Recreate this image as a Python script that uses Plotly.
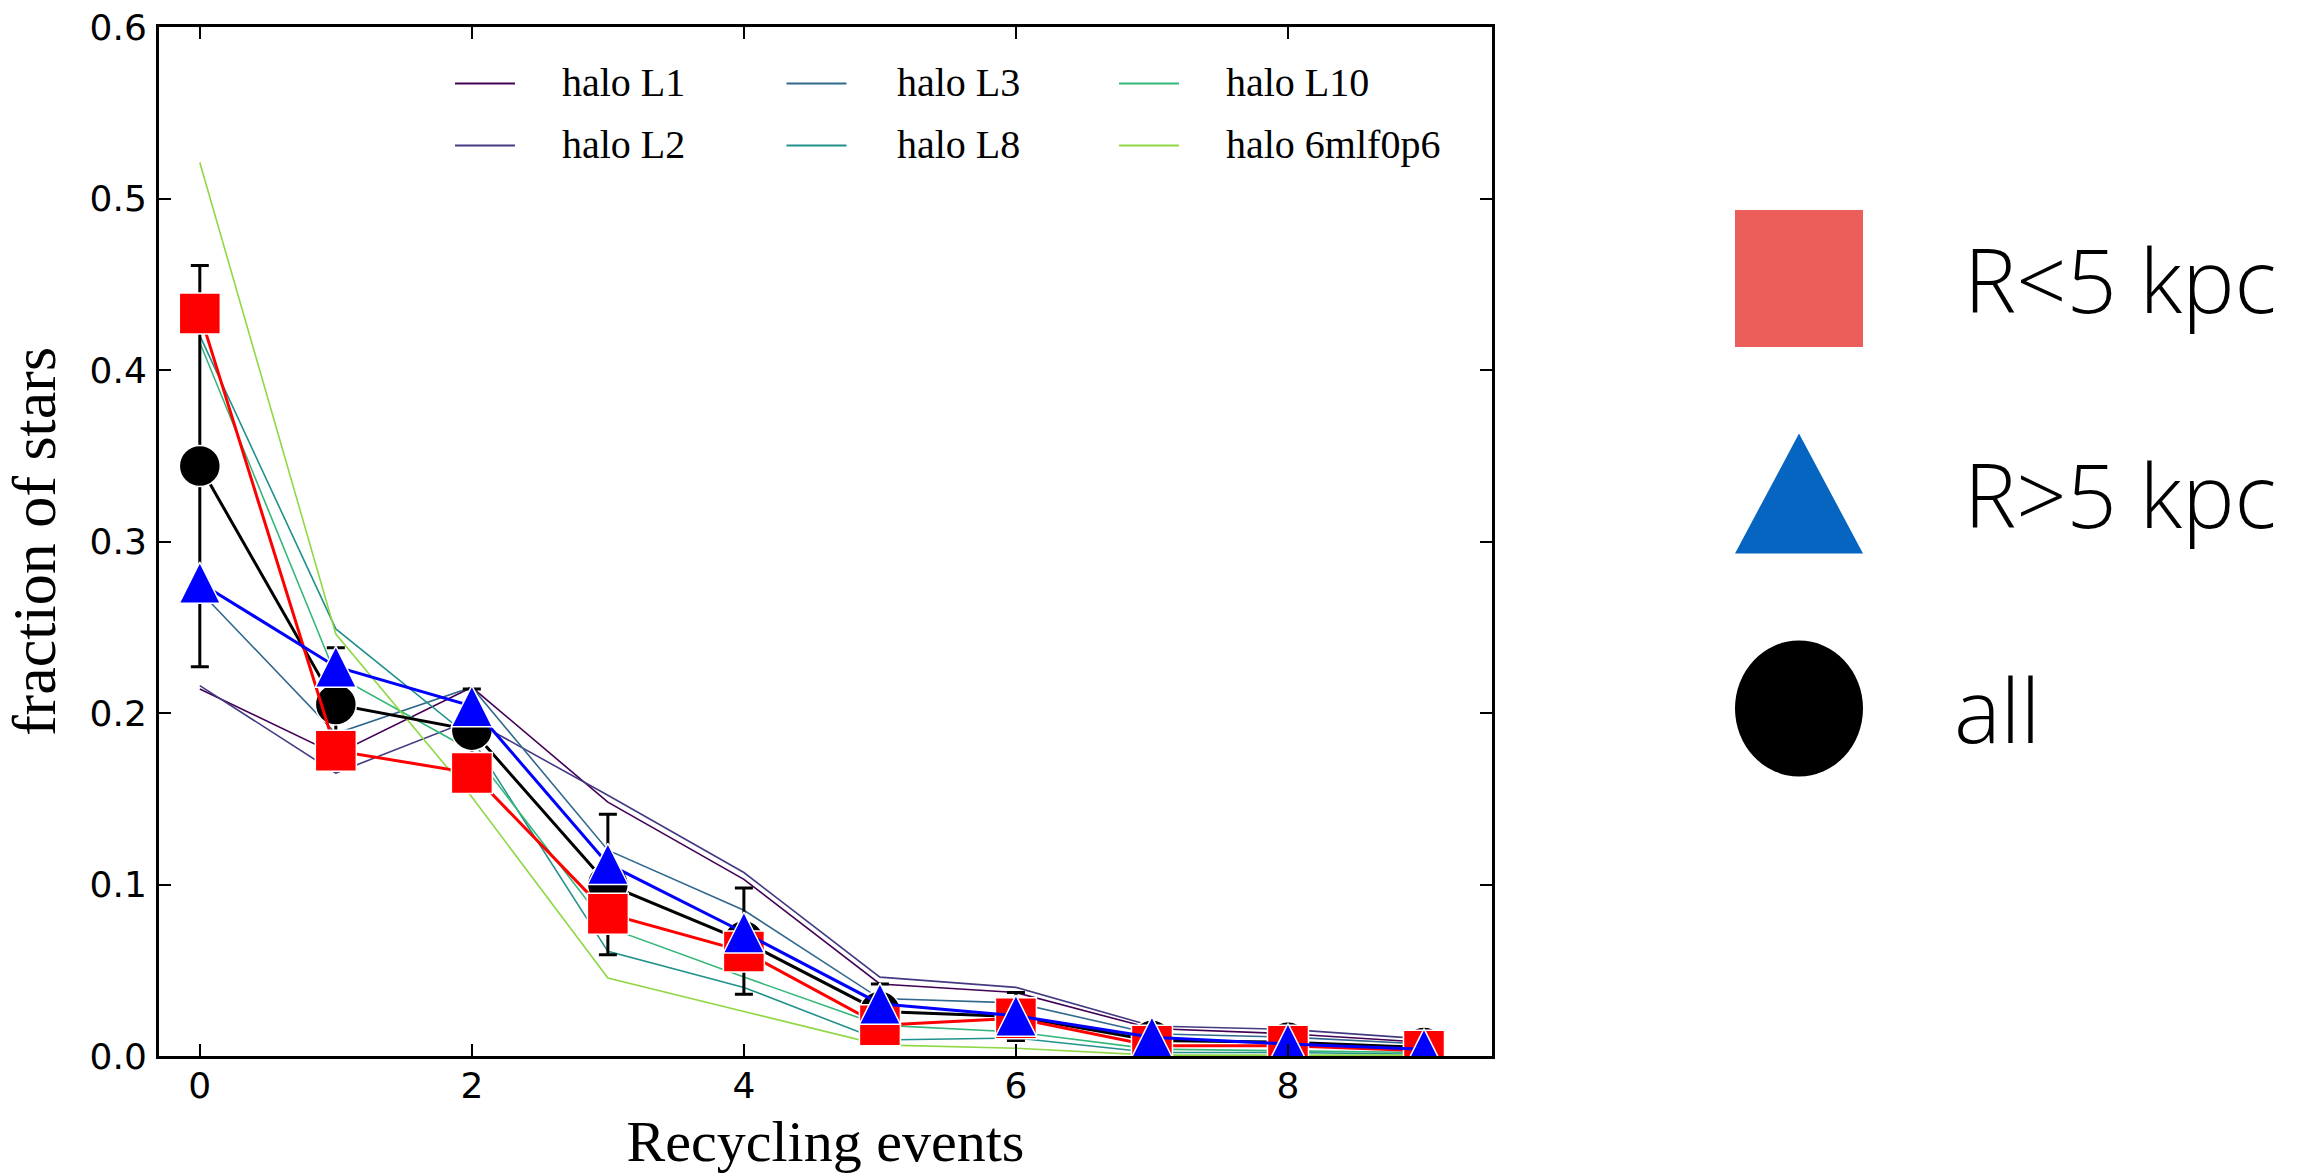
import plotly.graph_objects as go

# ---------------- data ----------------
events = list(range(10))

halo_names = ["halo L1", "halo L2", "halo L3", "halo L8", "halo L10", "halo 6mlf0p6"]
halo_colors = ["#440154", "#443a83", "#31688e", "#21918c", "#35b779", "#8fd744"]

halo_L1 = [0.214, 0.176, 0.215, 0.148, 0.103, 0.042, 0.037, 0.016, 0.013, 0.008]
halo_L2 = [0.216, 0.165, 0.196, 0.152, 0.107, 0.046, 0.040, 0.0175, 0.0155, 0.010]
halo_L3 = [0.271, 0.188, 0.215, 0.120, 0.085, 0.0335, 0.031, 0.013, 0.011, 0.007]
halo_L8 = [0.420, 0.249, 0.185, 0.061, 0.040, 0.0093, 0.0105, 0.002, 0.002, 0.001]
halo_L10 = [0.416, 0.222, 0.178, 0.075, 0.046, 0.018, 0.014, 0.004, 0.003, 0.002]
halo_6mlf0p6 = [0.521, 0.246, 0.151, 0.0455, 0.026, 0.0065, 0.0045, 0.0005, 0.0005, 0.0005]
halo_values = [halo_L1, halo_L2, halo_L3, halo_L8, halo_L10, halo_6mlf0p6]

inner_frac = [0.433, 0.178, 0.165, 0.083, 0.061, 0.018, 0.022, 0.006, 0.006, 0.003]   # R<5 kpc
outer_frac = [0.276, 0.227, 0.204, 0.112, 0.072, 0.0305, 0.0235, 0.011, 0.007, 0.004]  # R>5 kpc
all_frac = [0.344, 0.205, 0.190, 0.100, 0.067, 0.026, 0.023, 0.009, 0.008, 0.005]
all_err = [0.117, 0.033, 0.024, 0.041, 0.031, 0.016, 0.014, 0.010, 0.007, 0.005]

x_ticks = [0, 2, 4, 6, 8]
y_ticks = [0.0, 0.1, 0.2, 0.3, 0.4, 0.5, 0.6]

key_labels = ["R&lt;5 kpc", "R&gt;5 kpc", "all"]
key_colors = ["#ec5e5a", "#0565c0", "#000000"]
key_shapes = ["square", "triangle", "circle"]

# ---------------- layout geometry ----------------
W, H = 2312, 1174
ML, MR, MT, MB = 159, 820, 27, 118
PW, PH = W - ML - MR, H - MT - MB


def px(x):
    return (x - ML) / PW


def py(y):
    return 1 - (y - MT) / PH


fig = go.Figure()

for name, col, vals in zip(halo_names, halo_colors, halo_values):
    fig.add_trace(go.Scatter(
        x=events, y=vals, mode="lines", name=name, showlegend=False,
        line=dict(color=col, width=1.6),
    ))

fig.add_trace(go.Scatter(
    x=events, y=all_frac, mode="lines+markers", name="all", showlegend=False,
    line=dict(color="black", width=3),
    marker=dict(symbol="circle", size=41, color="black", line=dict(color="white", width=1.5)),
    error_y=dict(type="data", array=all_err, visible=True, color="black", thickness=3, width=9),
))
fig.add_trace(go.Scatter(
    x=events, y=inner_frac, mode="lines+markers", name="R<5 kpc", showlegend=False,
    line=dict(color="#ff0000", width=3),
    marker=dict(symbol="square", size=41, color="#ff0000", line=dict(color="white", width=1.5)),
))
fig.add_trace(go.Scatter(
    x=events, y=outer_frac, mode="lines+markers", name="R>5 kpc", showlegend=False,
    line=dict(color="#0000ff", width=3, backoff=0),
    marker=dict(symbol="arrow-down", angle=180, standoff=20.5, size=41, color="#0000ff",
                line=dict(color="white", width=1.5)),
))

shapes = []
annotations = []

# ---------------- in-plot legend of the halo runs (3 columns x 2 rows) ----------------
leg_line_x = [455.0, 786.5, 1119.0]
leg_text_x = [560.0, 894.5, 1224.0]
leg_row_y = [83.5, 145.5]
leg_line_len = 60.0
for k, (name, col) in enumerate(zip(halo_names, halo_colors)):
    c, r = k // 2, k % 2
    yy = leg_row_y[r]
    shapes.append(dict(type="line", xref="paper", yref="paper",
                       x0=px(leg_line_x[c]), x1=px(leg_line_x[c] + leg_line_len),
                       y0=py(yy), y1=py(yy), line=dict(color=col, width=2)))
    annotations.append(dict(text=name, xref="paper", yref="paper",
                            x=px(leg_text_x[c]), y=py(yy - 1), xanchor="left", yanchor="middle",
                            showarrow=False,
                            font=dict(family="Liberation Serif", size=40, color="black")))

# ---------------- right-hand key ----------------
key_top, key_pitch, key_w = 278.5, 215.0, 128.0
key_left = 1735.0
key_text_x = [1962.0, 1962.0, 1952.0]
for i, (lab, col, shp) in enumerate(zip(key_labels, key_colors, key_shapes)):
    cy = key_top + i * key_pitch
    x0, x1 = key_left, key_left + key_w
    if shp == "square":
        shapes.append(dict(type="rect", xref="paper", yref="paper",
                           x0=px(x0), x1=px(x1), y0=py(cy - 68.5), y1=py(cy + 68.5),
                           fillcolor=col, line=dict(width=0)))
    elif shp == "triangle":
        top, bot = cy - 60, cy + 60
        path = "M {:.5f},{:.5f} L {:.5f},{:.5f} L {:.5f},{:.5f} Z".format(
            px((x0 + x1) / 2), py(top), px(x1), py(bot), px(x0), py(bot))
        shapes.append(dict(type="path", xref="paper", yref="paper", path=path,
                           fillcolor=col, line=dict(width=0)))
    else:
        shapes.append(dict(type="circle", xref="paper", yref="paper",
                           x0=px(x0), x1=px(x1), y0=py(cy - 68), y1=py(cy + 68),
                           fillcolor=col, line=dict(width=0)))
    annotations.append(dict(text=lab, xref="paper", yref="paper", x=px(key_text_x[i]), y=py(cy),
                            xanchor="left", yanchor="middle", showarrow=False,
                            font=dict(family="Open Sans", size=88, color="black", weight=300)))

axis_common = dict(showline=True, linewidth=3, linecolor="black", mirror="ticks",
                   ticks="inside", ticklen=12, tickwidth=1.5, tickcolor="black",
                   showgrid=False, zeroline=False, automargin=False,
                   tickfont=dict(family="DejaVu Sans", size=36, color="black"))

fig.update_layout(
    width=W, height=H,
    margin=dict(l=ML, r=MR, t=MT, b=MB, autoexpand=False),
    paper_bgcolor="white", plot_bgcolor="white",
    xaxis=dict(range=[-0.3, 9.5], tickvals=x_ticks, ticklabelstandoff=-4,
               title=dict(text="Recycling events", standoff=18,
                          font=dict(family="Liberation Serif", size=58, color="black")),
               **axis_common),
    yaxis=dict(range=[0, 0.6], tickvals=y_ticks, tickformat=".1f", ticklabelstandoff=2,
               title=dict(text="fraction of stars", standoff=18,
                          font=dict(family="Liberation Serif", size=62, color="black")),
               **axis_common),
    shapes=shapes,
    annotations=annotations,
    showlegend=False,
)

fig.write_html(
    "out.html",
    config={"displayModeBar": False},
    post_script="document.body.style.margin='0px';"
                "document.documentElement.style.overflow='hidden';",
)
